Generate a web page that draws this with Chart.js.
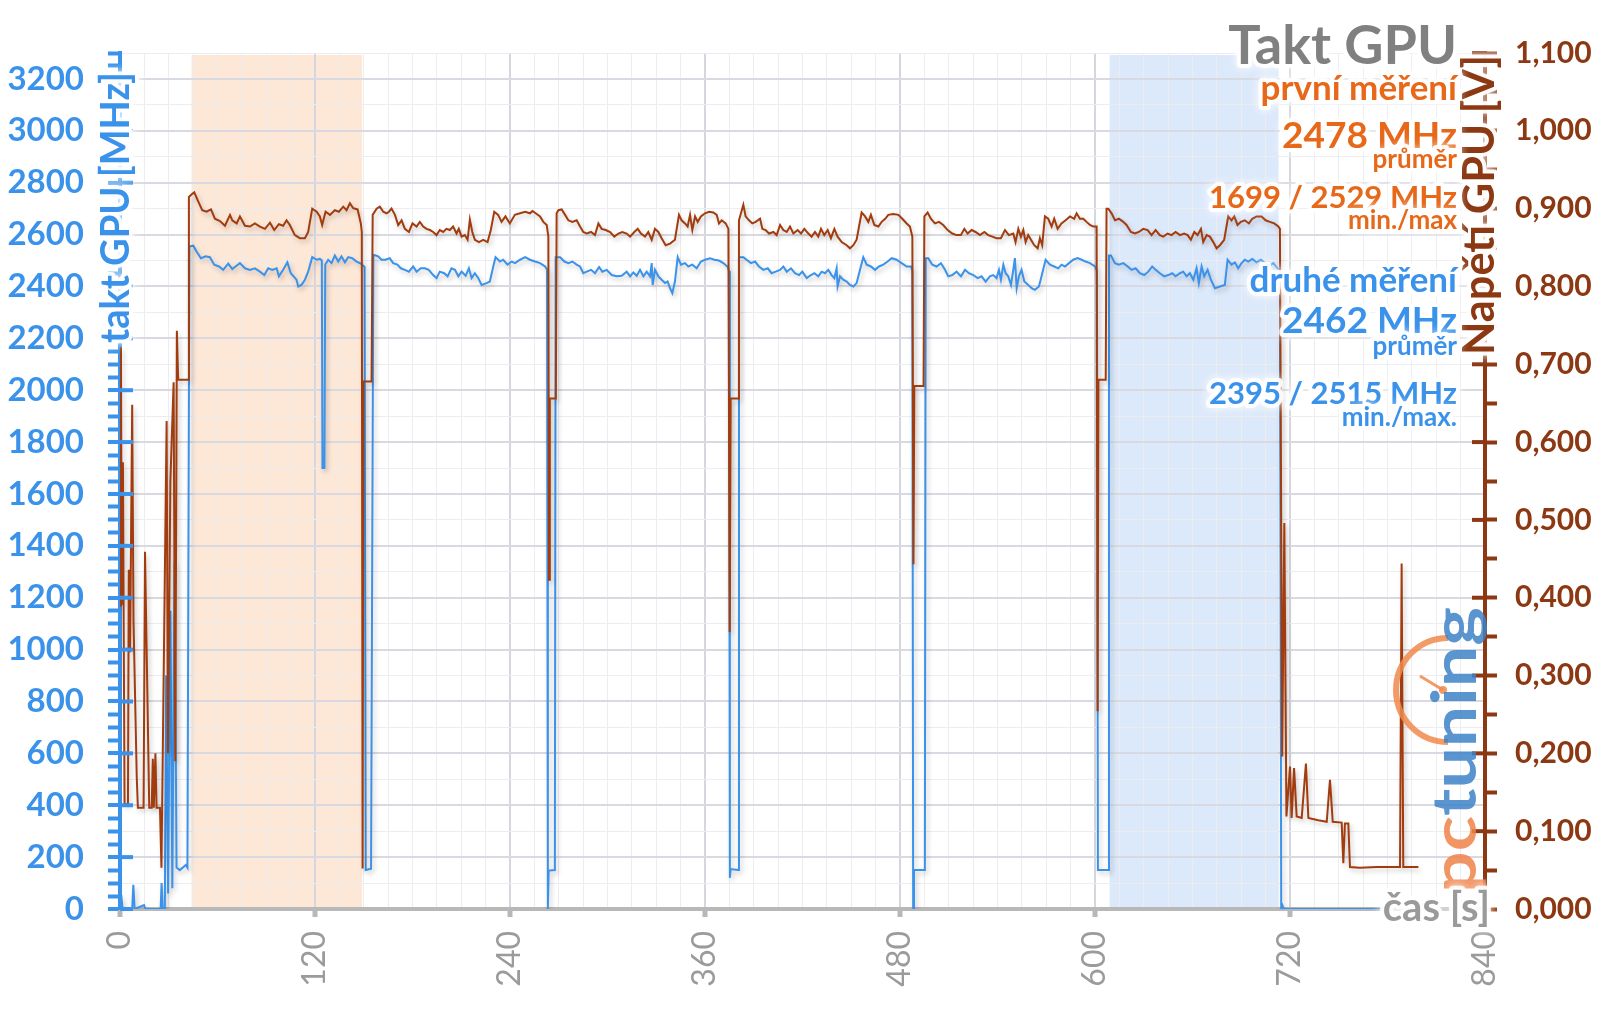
<!DOCTYPE html>
<html>
<head>
<meta charset="utf-8">
<script src="https://cdn.jsdelivr.net/npm/chart.js@4.4.1/dist/chart.umd.min.js"></script>
<style>
  html, body { margin: 0; padding: 0; background: #fff; }
  #wrap { width: 1600px; height: 1009px; }
</style>
</head>
<body>
<div id="wrap"><canvas id="chart"></canvas></div>
<script>
// takt GPU (druhé měření) – time [s] / MHz
const clockTime = [0,0.8,1.6,7.5,8.2,9,14.8,15.6,25,25.6,26.3,27.6,28.4,29.6,31,32.2,33.6,34.8,36.8,40.5,41.5,
  42.7,45.1,47.1,49.8,52.7,55.3,58,60.9,63.5,66.6,69.1,71.1,73.8,76.9,80,83,86.1,88.8,91.2,93.7,96.4,97.8,100.4,103,105.1,108.6,109.7,111.7,113.8,115.8,118.3,121,123,124.2,124.6,125.8,126.3,128.1,130.2,132.2,134.3,136.3,138.4,140.5,142.9,145.6,148.2,150.5,151.2,154.5,155.9,
  158.9,160.9,163.4,166,168.1,170.7,172.8,175.3,177.8,180.4,182.5,185.1,187.6,190,192.7,194.8,196.8,199.5,201.6,204,206.1,208.2,210.2,212.7,214.7,216.4,218.4,220.5,222.5,225.6,227.6,229.7,231.1,233.8,235.8,238.5,241,243.1,246.2,249.3,252.3,255.4,258.5,261.6,262.8,263.3,263.8,267.6,268.1,
  270.8,273.5,275.9,278.4,281,283.1,285.1,287.2,289.9,292.3,294.8,296.8,299.5,302.6,305.7,308.7,311.8,313.9,315.9,318,320,322.1,324.1,326.2,327.2,327.8,329.2,331.3,333.3,335.4,337,338.5,339.9,341.5,343.2,345.2,347.7,349.7,352.2,354.9,357.5,360,363.1,365.7,368.6,371.3,374,374.8,375.3,375.8,380.4,380.9,
  383.6,385.6,388.3,390.8,393.2,395.9,398.6,401,403.5,406.2,408.2,410.3,412.9,415.4,417.9,419.9,422.6,425.2,427.3,429.7,431.8,433.8,435.9,437.9,439.6,441,441.6,443.1,445.1,447.2,449.2,451.3,453.3,455.4,457.4,459.5,462.1,464.6,467.1,469.7,472.4,474.9,477.9,481,484.1,486.8,487.6,488.1,488.6,495.3,495.8,
  497.4,499.9,502.5,505.2,507.7,509.7,512.2,514.8,517.5,520,522.4,525.1,527.8,530.2,532.7,535.3,537.4,539.4,540.9,542.1,543.6,545,546.6,548.3,549.7,550.7,551.8,553.2,554.8,556.5,558.9,561,563,565.5,567.1,569.6,572.3,574.9,577.4,579.4,581.5,584,586.6,589.3,591.8,594.2,596.9,600,601.2,601.8,608,608.6,
  609.8,612.3,614.7,617.4,620.1,622.5,625,627.6,630.3,632.8,635.2,637.3,639.9,642.6,645.1,647.5,649.6,652.3,654.3,656.4,658.4,660.5,662.5,663.9,665.6,667.2,669.3,671.3,673.8,676.9,679.9,681.6,684,686.1,688.1,690.2,692.2,694.3,696.8,699.4,702.1,704.6,707,709.7,712.3,713.8,714.6,715.4,716.2,777];
const clockMHz = [0,54,0,0,93,0,15,0,0,100,0,0,900,60,1150,80,1340,160,150,170,160,
  2554,2557,2535,2509,2516,2513,2484,2477,2464,2488,2467,2477,2490,2470,2464,2470,2457,2444,2470,2464,2470,2439,2464,2493,2451,2426,2400,2406,2426,2457,2513,2503,2506,2500,1700,1700,2484,2503,2490,2519,2496,2516,2493,2513,2509,2496,2488,2475,150,155,2522,
  2516,2503,2503,2509,2490,2484,2470,2464,2457,2477,2457,2470,2470,2464,2444,2432,2457,2451,2439,2470,2464,2439,2457,2441,2470,2432,2451,2432,2406,2413,2419,2477,2513,2496,2503,2484,2496,2490,2503,2513,2503,2496,2490,2477,2465,0,148,150,2513,
  2513,2496,2490,2496,2484,2477,2451,2457,2464,2451,2475,2457,2464,2444,2439,2441,2457,2439,2454,2441,2464,2439,2457,2439,2490,2406,2464,2439,2426,2413,2419,2393,2374,2419,2513,2484,2490,2477,2484,2470,2496,2503,2509,2503,2500,2490,2475,2460,120,154,150,2513,
  2513,2503,2490,2496,2477,2464,2470,2451,2457,2464,2477,2457,2470,2451,2444,2457,2432,2444,2451,2439,2457,2451,2464,2444,2432,2470,2400,2439,2426,2419,2406,2400,2413,2464,2513,2484,2477,2464,2477,2484,2496,2509,2503,2490,2477,2477,2460,0,150,150,2509,
  2509,2484,2477,2490,2464,2439,2444,2457,2439,2464,2451,2444,2432,2439,2419,2439,2444,2432,2464,2426,2484,2451,2439,2406,2464,2509,2393,2439,2464,2419,2406,2393,2387,2400,2439,2503,2484,2477,2470,2484,2477,2490,2503,2509,2503,2496,2490,2477,2460,150,150,2519,
  2519,2490,2484,2490,2477,2464,2470,2451,2444,2457,2477,2464,2451,2439,2444,2451,2439,2451,2457,2439,2451,2426,2470,2413,2477,2439,2464,2426,2393,2400,2406,2503,2484,2493,2470,2490,2503,2496,2506,2493,2503,2490,2477,2490,2470,2465,0,14,0,0];

// napětí GPU – time [s] / V
const voltTime = [0,0.6,1.1,1.8,2.8,4.9,5.4,6.2,7.5,8.3,10.3,11,14.5,15.4,18,19.5,20.2,20.8,21.8,22.5,24.6,25.5,28.7,29.5,31,33,34,35,35.8,42,
  42.4,44.5,45.7,48.2,50.6,53.3,56,58.4,61.5,64.6,67.7,69.1,71.8,73.8,76.9,80,83,86.1,89.2,92.3,94.9,97.8,100.4,102.5,104.5,107.6,110.7,113.8,115.8,118.3,121,123,124.4,126.5,129.2,132.2,134.7,137.4,139.4,141.5,143.5,146.2,148.2,148.8,149.3,149.8,154.8,
  155.5,157.9,159.9,162,164,165.5,167.1,169.2,171.2,173.3,175.3,177.8,180,182.5,184.5,186.6,188.6,190.7,192.7,194.8,196.8,198.9,200.9,203,205,207.1,208.5,210.2,212.2,213.9,215.3,216.8,218.4,220.9,223.5,226.2,228.2,230.3,232.7,234.8,237.2,239.9,243,246.2,249.3,252.3,253.8,255.8,258.5,260.5,262.6,263.6,264,264.5,268.2,
  268.7,269.8,271.8,273.9,275.9,278.4,281,283.1,285.1,287.2,289.9,292.3,294.4,296.4,298.9,301.6,304.2,306.7,309.1,311.8,313.9,316.5,318.6,320.6,323.1,325.1,327.2,329.2,331.3,333.3,335.8,338.5,341.5,344,345.6,347.7,349.3,350.8,352.2,353.9,355.5,357.5,360,362.5,365.1,367.2,368.6,370.3,372.7,374.4,375.2,375.8,380.4,
  380.9,383.6,385,387.1,389.1,391.2,393.9,395.3,397.3,399.4,402.1,404.1,406.2,408.2,410.3,412.3,414.4,417,419.1,421.1,423.6,425.6,427.7,429.7,431.4,433.4,435.5,437.5,439.6,441.6,444.1,447.2,449.2,451.3,453.3,454.8,456.4,458.5,460.5,462.1,464.2,466.7,468.7,470.9,472.8,475.9,479,481.4,484.1,486.1,487.6,488.3,488.8,494.5,
  495,497,499,501.5,504,506.6,509.3,512.2,514.8,517.5,519.6,521.6,524.1,526.5,529.2,531.9,534.3,536.8,539.4,542.1,544.6,547,549.7,551.1,552.8,554.4,555.9,557.3,558.9,560.6,562.6,564.7,566.1,567.5,569.2,571.2,573.3,574.9,577,579.4,581.9,584.6,587.2,588.7,590.7,592.8,594.8,596.9,598.9,601,601.6,602.1,606.6,
  607.1,608.2,610.2,612.3,614.7,617.4,619.4,622.1,624.6,627,629.7,632.4,634.8,637.3,639.9,642,644.7,647.1,649.6,652.3,654.9,657,659,661.1,663.1,665.2,666.6,668.7,670.7,672.8,674.8,676.9,679.5,682,684,685.7,687.7,689.8,692.2,694.7,696.8,699.4,702.5,705,707.6,710.3,712.8,713.8,715.2,716.5,
  717.8,720,721,722.5,724.1,727.2,729.8,731.3,737.4,742.6,744.6,746.3,751.8,752.8,753.8,755.9,756.9,763,773.3,787.7,788.7,789.7,799];
const voltV = [0.39,0.722,0.391,0.574,0.135,0.135,0.436,0.33,0.648,0.371,0.17,0.13,0.13,0.459,0.13,0.13,0.193,0.13,0.2,0.13,0.13,0.053,0.627,0.2,0.55,0.677,0.19,0.743,0.68,0.68,
  0.915,0.919,0.921,0.909,0.898,0.896,0.899,0.887,0.884,0.878,0.892,0.885,0.881,0.89,0.878,0.877,0.881,0.877,0.874,0.882,0.8725,0.88,0.878,0.885,0.879,0.866,0.862,0.862,0.87,0.9,0.896,0.89,0.879,0.896,0.892,0.898,0.896,0.9025,0.898,0.907,0.9005,0.899,0.881,0.87,0.052,0.678,0.678,
  0.892,0.9,0.9025,0.896,0.894,0.896,0.9,0.892,0.879,0.885,0.874,0.87,0.881,0.877,0.883,0.877,0.874,0.8725,0.87,0.866,0.8725,0.87,0.874,0.8725,0.877,0.868,0.874,0.864,0.866,0.86,0.886,0.87,0.86,0.857,0.86,0.857,0.8725,0.896,0.892,0.883,0.89,0.881,0.892,0.894,0.896,0.894,0.897,0.894,0.89,0.883,0.879,0.864,0.423,0.656,0.656,
  0.894,0.898,0.899,0.892,0.885,0.883,0.885,0.877,0.87,0.868,0.87,0.866,0.881,0.874,0.8725,0.87,0.864,0.868,0.87,0.868,0.864,0.87,0.874,0.868,0.864,0.87,0.86,0.874,0.87,0.862,0.853,0.855,0.86,0.892,0.885,0.881,0.877,0.892,0.8725,0.89,0.883,0.89,0.894,0.896,0.895,0.892,0.881,0.885,0.881,0.874,0.356,0.656,0.656,
  0.885,0.905,0.89,0.885,0.881,0.883,0.887,0.874,0.8725,0.868,0.87,0.866,0.879,0.8725,0.87,0.877,0.868,0.8725,0.868,0.874,0.868,0.864,0.87,0.864,0.874,0.866,0.8725,0.862,0.874,0.864,0.857,0.853,0.849,0.853,0.86,0.877,0.895,0.89,0.883,0.892,0.879,0.877,0.883,0.887,0.892,0.893,0.892,0.887,0.881,0.877,0.864,0.443,0.672,0.672,
  0.89,0.895,0.887,0.881,0.883,0.879,0.8725,0.868,0.866,0.866,0.874,0.868,0.8725,0.87,0.866,0.87,0.866,0.864,0.862,0.862,0.8725,0.866,0.868,0.857,0.874,0.864,0.8725,0.857,0.866,0.86,0.853,0.849,0.862,0.853,0.89,0.887,0.877,0.887,0.874,0.881,0.885,0.89,0.887,0.894,0.887,0.887,0.883,0.879,0.877,0.877,0.254,0.68,0.68,
  0.9,0.9,0.894,0.885,0.887,0.883,0.879,0.87,0.868,0.87,0.874,0.8725,0.866,0.8725,0.866,0.864,0.868,0.866,0.87,0.866,0.868,0.866,0.86,0.87,0.866,0.874,0.857,0.866,0.864,0.857,0.849,0.853,0.86,0.89,0.885,0.89,0.879,0.883,0.885,0.881,0.887,0.89,0.89,0.885,0.883,0.881,0.877,0.874,0.196,0.496,
  0.119,0.183,0.117,0.181,0.119,0.117,0.187,0.117,0.114,0.112,0.166,0.112,0.111,0.059,0.11,0.11,0.054,0.053,0.054,0.054,0.444,0.054,0.054];

const xTickLabels = [0, 120, 240, 360, 480, 600, 720, 840];
const bands = [
  { from: 44, to: 149, color: '#fde8d8' },
  { from: 609, to: 713, color: '#dce9fb' }
];

const BLUE = '#3a92ea';
const BROWN = '#8c3812';
const BROWN_LINE = '#a23c0e';
const ORANGE = '#e8681a';
const GRAY = '#808080';

const clockData = clockTime.map((t, i) => ({ x: t, y: clockMHz[i] }));
const voltData = voltTime.map((t, i) => ({ x: t, y: voltV[i] }));

function glowText(ctx, text, x, y, color, font, align, maxW) {
  ctx.save();
  ctx.font = font;
  ctx.textAlign = align;
  ctx.textBaseline = 'alphabetic';
  ctx.lineJoin = 'round';
  ctx.strokeStyle = 'rgba(255,255,255,0.9)';
  ctx.lineWidth = 8;
  ctx.shadowColor = '#fff';
  ctx.shadowBlur = 10;
  if (maxW) ctx.strokeText(text, x, y, maxW); else ctx.strokeText(text, x, y);
  ctx.shadowBlur = 0;
  ctx.fillStyle = color;
  if (maxW) ctx.fillText(text, x, y, maxW); else ctx.fillText(text, x, y);
  ctx.restore();
}

const bandPlugin = {
  id: 'bands',
  beforeDraw(chart) {
    const { ctx, chartArea, scales } = chart;
    ctx.save();
    bands.forEach(b => {
      const x1 = scales.x.getPixelForValue(b.from);
      const x2 = scales.x.getPixelForValue(b.to);
      ctx.fillStyle = b.color;
      ctx.fillRect(x1, chartArea.top + 2, x2 - x1, chartArea.bottom - chartArea.top - 2);
    });
    ctx.restore();
  }
};

const shadowPlugin = {
  id: 'lineShadow',
  beforeDatasetDraw(chart) {
    const ctx = chart.ctx;
    ctx.save();
    ctx.shadowColor = 'rgba(0,0,0,0.22)';
    ctx.shadowBlur = 5;
    ctx.shadowOffsetX = 2;
    ctx.shadowOffsetY = 3;
  },
  afterDatasetDraw(chart) {
    chart.ctx.restore();
  }
};

const decorPlugin = {
  id: 'decor',
  afterDraw(chart) {
    const { ctx, chartArea, scales } = chart;
    ctx.save();
    // inner halves of the major axis ticks
    ctx.lineWidth = 4;
    ctx.strokeStyle = BLUE;
    for (let v = 0; v <= 3200; v += 200) {
      const y = scales.y.getPixelForValue(v);
      ctx.beginPath(); ctx.moveTo(chartArea.left, y); ctx.lineTo(chartArea.left + 13, y); ctx.stroke();
    }
    ctx.strokeStyle = BROWN;
    for (let i = 0; i <= 11; i++) {
      const y = scales.y1.getPixelForValue(i / 10);
      ctx.beginPath(); ctx.moveTo(chartArea.right - 13, y); ctx.lineTo(chartArea.right, y); ctx.stroke();
    }
    ctx.restore();

    // logo
    ctx.save();
    ctx.globalAlpha = 0.85;
    ctx.strokeStyle = '#f08a4b';
    ctx.lineWidth = 6;
    ctx.beginPath(); ctx.arc(1448, 690, 52, Math.PI / 2, Math.PI * 1.5); ctx.stroke();
    ctx.lineWidth = 3;
    ctx.beginPath(); ctx.moveTo(1443, 690); ctx.lineTo(1420, 676); ctx.stroke();
    ctx.fillStyle = '#f08a4b';
    ctx.beginPath(); ctx.arc(1443, 690, 4, 0, Math.PI * 2); ctx.fill();
    ctx.translate(1476, 893);
    ctx.rotate(-Math.PI / 2);
    ctx.font = '700 62px Lato';
    const total = ctx.measureText('pctuning').width;
    ctx.scale(286 / total, 1);
    ctx.textAlign = 'left';
    ctx.fillStyle = '#f0824a';
    ctx.fillText('pc', 0, 0);
    const pcW = ctx.measureText('pc').width;
    ctx.fillStyle = '#3d82c8';
    ctx.fillText('tuning', pcW, 0);
    ctx.restore();

    // axis titles
    ctx.save();
    ctx.translate(129, 72);
    ctx.rotate(-Math.PI / 2);
    glowText(ctx, 'takt GPU [MHz]', 0, 0, BLUE, '700 40px Lato', 'right', 271);
    ctx.restore();

    ctx.save();
    ctx.translate(1494, 55);
    ctx.rotate(-Math.PI / 2);
    glowText(ctx, 'Napětí GPU [V]', 0, 0, BROWN, '700 44px Lato', 'right', 300);
    ctx.restore();

    glowText(ctx, 'čas [s]', 1490, 921, '#9a9a9a', '700 40px Lato', 'right');

    // annotations
    const ax = 1457;
    glowText(ctx, 'Takt GPU', ax, 64, GRAY, '700 54px Lato', 'right');
    glowText(ctx, 'první měření', ax, 100, ORANGE, '700 35px Lato', 'right');
    glowText(ctx, '2478 MHz', ax, 148, ORANGE, '700 37px Lato', 'right');
    glowText(ctx, 'průměr', ax, 168, ORANGE, '700 26px Lato', 'right');
    glowText(ctx, '1699 / 2529 MHz', ax, 208, ORANGE, '700 31px Lato', 'right');
    glowText(ctx, 'min./max', ax, 229, ORANGE, '700 26px Lato', 'right');
    glowText(ctx, 'druhé měření', ax, 292, BLUE, '700 35px Lato', 'right');
    glowText(ctx, '2462 MHz', ax, 333, BLUE, '700 37px Lato', 'right');
    glowText(ctx, 'průměr', ax, 355, BLUE, '700 26px Lato', 'right');
    glowText(ctx, '2395 / 2515 MHz', ax, 404, BLUE, '700 31px Lato', 'right');
    glowText(ctx, 'min./max.', ax, 426, BLUE, '700 26px Lato', 'right');
  }
};

new Chart(document.getElementById('chart'), {
  type: 'line',
  data: {
    datasets: [
      {
        label: 'Napětí GPU',
        data: voltData,
        yAxisID: 'y1',
        borderColor: BROWN_LINE,
        borderWidth: 2,
        pointRadius: 0,
        tension: 0
      },
      {
        label: 'takt GPU',
        data: clockData,
        yAxisID: 'y',
        borderColor: BLUE,
        borderWidth: 2,
        pointRadius: 0,
        tension: 0
      }
    ]
  },
  options: {
    responsive: true,
    maintainAspectRatio: false,
    animation: false,
    layout: { padding: { top: 53, left: 0, right: 0, bottom: 0 } },
    plugins: { legend: { display: false }, tooltip: { enabled: false } },
    scales: {
      x: {
        type: 'linear',
        min: 0,
        max: 840,
        afterFit: s => { s.height = 100; },
        ticks: {
          stepSize: 15,
          autoSkip: false,
          minRotation: 90,
          maxRotation: 90,
          padding: 14,
          color: '#9b9b9b',
          font: { family: 'Lato', size: 32 },
          callback: v => (xTickLabels.includes(v) ? String(v) : '')
        },
        grid: {
          color: c => (c.tick && c.tick.value % 120 === 0 ? '#d6d6de' : '#ececf1'),
          lineWidth: c => (c.tick && c.tick.value % 120 === 0 ? 2 : 1),
          tickLength: 8,
          tickWidth: 5,
          tickColor: c => (c.tick && c.tick.value % 120 === 0 ? '#b8b8b8' : 'rgba(0,0,0,0)')
        },
        border: { color: '#b8b8b8', width: 4 }
      },
      y: {
        position: 'left',
        min: 0,
        max: 3300,
        afterFit: s => { s.width = 120; },
        ticks: {
          stepSize: 50,
          autoSkip: false,
          padding: 24,
          color: BLUE,
          font: { family: 'Lato', size: 33, weight: '700' },
          callback: v => (v % 200 === 0 ? String(v) : '')
        },
        grid: {
          color: c => {
            const v = c.tick ? c.tick.value : 0;
            if (v === 0) return 'rgba(0,0,0,0)';
            if (v % 200 === 0) return '#d9d9e1';
            if (v % 100 === 0) return '#ececf1';
            return 'rgba(0,0,0,0)';
          },
          lineWidth: c => (c.tick && c.tick.value % 200 === 0 ? 2 : 1),
          tickLength: 12,
          tickWidth: 4,
          tickColor: BLUE
        },
        border: { color: BLUE, width: 4 }
      },
      y1: {
        position: 'right',
        min: 0,
        max: 1.1,
        afterFit: s => { s.width = 115; },
        ticks: {
          stepSize: 0.05,
          autoSkip: false,
          padding: 18,
          color: BROWN,
          font: { family: 'Lato', size: 30, weight: '700' },
          callback: v => (Math.round(v * 1000) % 100 === 0 ? v.toFixed(3).replace('.', ',') : '')
        },
        grid: {
          drawOnChartArea: false,
          tickLength: 12,
          tickWidth: 4,
          tickColor: BROWN
        },
        border: { color: BROWN, width: 4 }
      }
    }
  },
  plugins: [bandPlugin, shadowPlugin, decorPlugin]
});
</script>
</body>
</html>
